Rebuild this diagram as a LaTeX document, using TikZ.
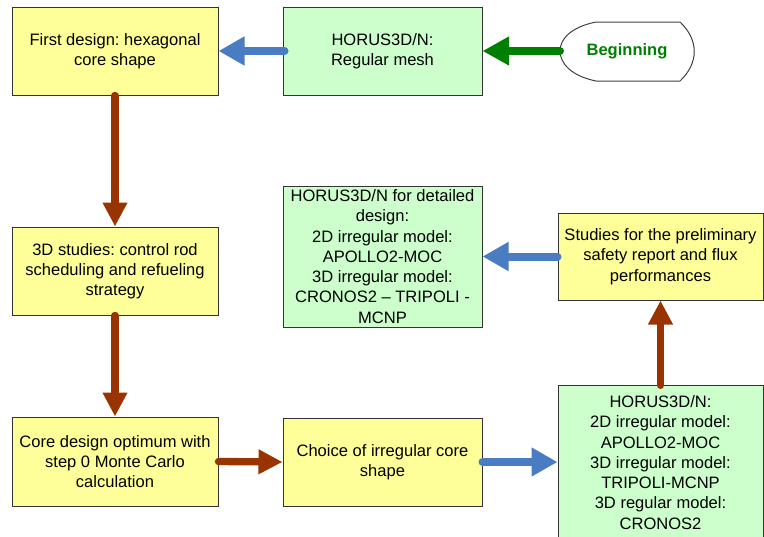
\documentclass[tikz,border=0pt]{standalone}
\usepackage{fontspec}
\setmainfont{Liberation Sans}
\usetikzlibrary{arrows.meta}
\definecolor{boxyellow}{HTML}{FFFF99}
\definecolor{boxgreen}{HTML}{CCFFCC}
\definecolor{flowblue}{HTML}{4A7CC4}
\definecolor{flowbrown}{HTML}{993300}
\definecolor{flowgreen}{HTML}{008000}
\frenchspacing
\tikzset{
	stagebox/.style={draw=black!80, line width=0.75pt, inner sep=0pt, align=center,
		font=\fontsize{12.4}{15.2}\selectfont},
	yellowbox/.style={stagebox, fill=boxyellow},
	greenbox/.style={stagebox, fill=boxgreen},
	bluearrow/.style={draw=flowblue, line width=6pt, line cap=round,
		-{Triangle[length=19.5pt, width=20.5pt]}},
	brownarrow/.style={draw=flowbrown, line width=5.5pt, line cap=round,
		-{Triangle[length=18pt, width=17.5pt]}},
	greenarrow/.style={draw=flowgreen, line width=6pt, line cap=round,
		-{Triangle[length=20pt, width=20.5pt]}}
}
\begin{document}
\begin{tikzpicture}[x=0.75pt, y=-0.75pt]
		\useasboundingbox (0, 0) rectangle (764, 536);
		\draw[draw=black!75, line width=0.75pt, fill=white] (596, 22) -- (680, 22)
			.. controls (699, 40) and (699, 63) .. (680, 81) -- (596, 81)
			.. controls (571, 76) and (560, 63) .. (560, 51)
			.. controls (560, 39) and (571, 27) .. (596, 22) -- cycle;
		\node[text=flowgreen, font=\fontsize{12.4}{15.2}\selectfont\bfseries] (begin) at (627, 51) {Beginning};
		\coordinate (beginleft) at (560, 51);
		\node[greenbox, minimum width=149.25pt, minimum height=66pt] (mesh) at (382.5, 51) {HORUS3D/N:\\Regular mesh};
		\node[yellowbox, minimum width=154.5pt, minimum height=66pt] (hexa) at (115, 51) {First design: hexagonal\\core shape};
		\node[yellowbox, minimum width=154.5pt, minimum height=66pt] (studies) at (115, 271) {3D studies: control rod\\scheduling and refueling\\strategy};
		\node[yellowbox, minimum width=154.5pt, minimum height=66.75pt] (optimum) at (115, 461.5) {Core design optimum with\\step 0 Monte Carlo\\calculation};
		\node[yellowbox, minimum width=149.25pt, minimum height=66pt] (choice) at (382.5, 462) {Choice of irregular core\\shape};
		\node[greenbox, minimum width=153.75pt, minimum height=115pt] (irreg) at (660.5, 462.5) {HORUS3D/N:\\2D irregular model:\\APOLLO2-MOC\\3D irregular model:\\TRIPOLI-MCNP\\3D regular model:\\CRONOS2};
		\node[yellowbox, minimum width=153.75pt, minimum height=65.25pt] (safety) at (660.5, 256.5) {Studies for the preliminary\\safety report and flux\\performances};
		\node[greenbox, minimum width=149.25pt, minimum height=105.75pt] (detail) at (382.5, 256.5) {HORUS3D/N for detailed\\design:\\2D irregular model:\\APOLLO2-MOC\\3D irregular model:\\CRONOS2 -- TRIPOLI -\\MCNP};
		\draw[greenarrow] (beginleft) -- (mesh.east);
		\draw[bluearrow] ([xshift=1.5pt]mesh.west) -- (hexa.east);
		\draw[brownarrow] (hexa.south) -- (studies.north);
		\draw[brownarrow] (studies.south) -- (optimum.north);
		\draw[brownarrow] (optimum.east) -- (choice.west);
		\draw[bluearrow] (choice.east) -- (irreg.west |- choice.east);
		\draw[brownarrow] (irreg.north) -- (safety.south);
		\draw[bluearrow] (safety.west) -- (detail.east);
	\end{tikzpicture}
\end{document}
